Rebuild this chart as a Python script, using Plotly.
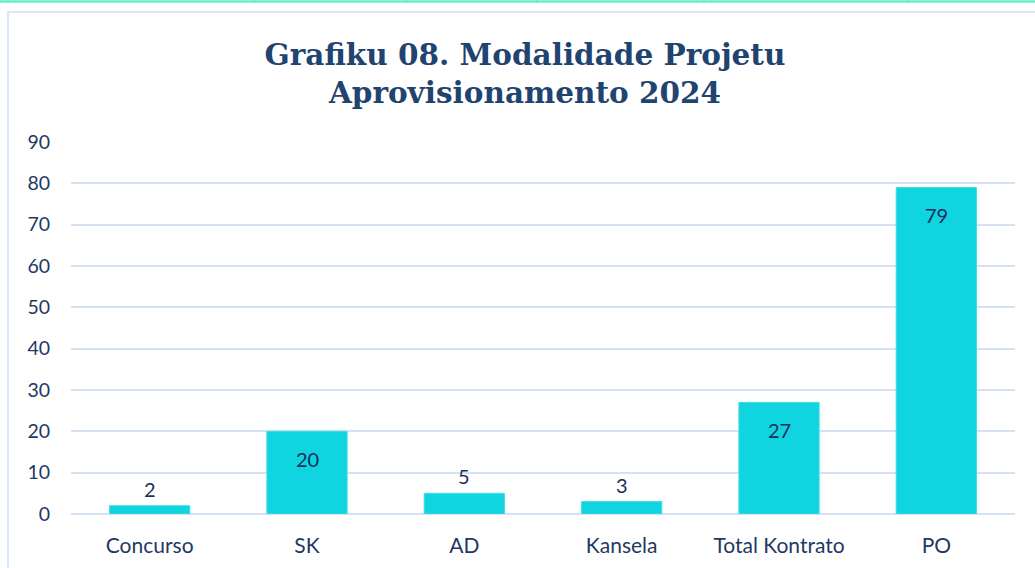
import plotly.graph_objects as go

categories = ["Concurso", "SK", "AD", "Kansela", "Total Kontrato", "PO"]
values = [2, 20, 5, 3, 27, 79]
y_ticks = [0, 10, 20, 30, 40, 50, 60, 70, 80, 90]

W, H = 1035, 568
L, R, T, B = 71, 20, 142, 54
pw, ph = W - L - R, H - T - B

def px_x(px):
    return (px - L) / pw

def px_y(py):
    return (H - B - py) / ph

FONT = "Lato, Open Sans, sans-serif"
NAVY = "#1b2f5e"

fig = go.Figure()
fig.add_trace(go.Bar(
    x=categories, y=values,
    marker=dict(color="#10d4e0", line=dict(color="#40dce5", width=1)),
    width=0.51,
    hoverinfo="x+y",
))

annotations = []
for c, v in zip(categories, values):
    inside = v >= 10
    annotations.append(dict(
        x=c, y=v, xref="x", yref="y", text=str(v), showarrow=False,
        yanchor="middle", yshift=-28 if inside else 17,
        font=dict(family=FONT, size=20, color=NAVY),
    ))

shapes = [
    dict(type="rect", xref="paper", yref="paper",
         x0=px_x(8), x1=px_x(1040), y0=px_y(575), y1=px_y(12),
         line=dict(color="#dbe7f6", width=2), fillcolor="rgba(0,0,0,0)", layer="below"),
    dict(type="line", xref="paper", yref="paper",
         x0=px_x(0), x1=px_x(1035), y0=px_y(1.5), y1=px_y(1.5),
         line=dict(color="#66efc9", width=2.5)),
]
for vx in [8, 254, 406, 537, 704, 908]:
    shapes.append(dict(type="line", xref="paper", yref="paper",
                       x0=px_x(vx), x1=px_x(vx), y0=px_y(0), y1=px_y(3),
                       line=dict(color="#66efc9", width=1.5)))

fig.update_layout(
    width=W, height=H,
    margin=dict(l=L, r=R, t=T, b=B),
    paper_bgcolor="white", plot_bgcolor="white",
    showlegend=False,
    title=dict(
        text="<b>Grafiku 08. Modalidade Projetu<br>Aprovisionamento 2024</b>",
        x=525 / W, xanchor="center", xref="container",
        y=1 - 65 / H, yanchor="middle", yref="container",
        font=dict(family="DejaVu Serif, Liberation Serif, serif", size=29.5, color="#1f4470"),
    ),
    xaxis=dict(
        tickfont=dict(family=FONT, size=21, color="#1f3864"),
        showline=False, ticks="", showgrid=False, ticklabelstandoff=17,
    ),
    yaxis=dict(
        range=[0, 90], tickvals=y_ticks,
        tickfont=dict(family=FONT, size=19.5, color="#1f3864"),
        showgrid=True, gridcolor="#d6e2f3", gridwidth=2,
        zeroline=True, zerolinecolor="#d6e2f3", zerolinewidth=2,
        showline=False, ticks="", ticklabelstandoff=20,
    ),
    shapes=shapes,
    annotations=annotations,
)

fig.write_html("out.html", config={"displayModeBar": False},
               post_script="document.body.style.margin='0';")
